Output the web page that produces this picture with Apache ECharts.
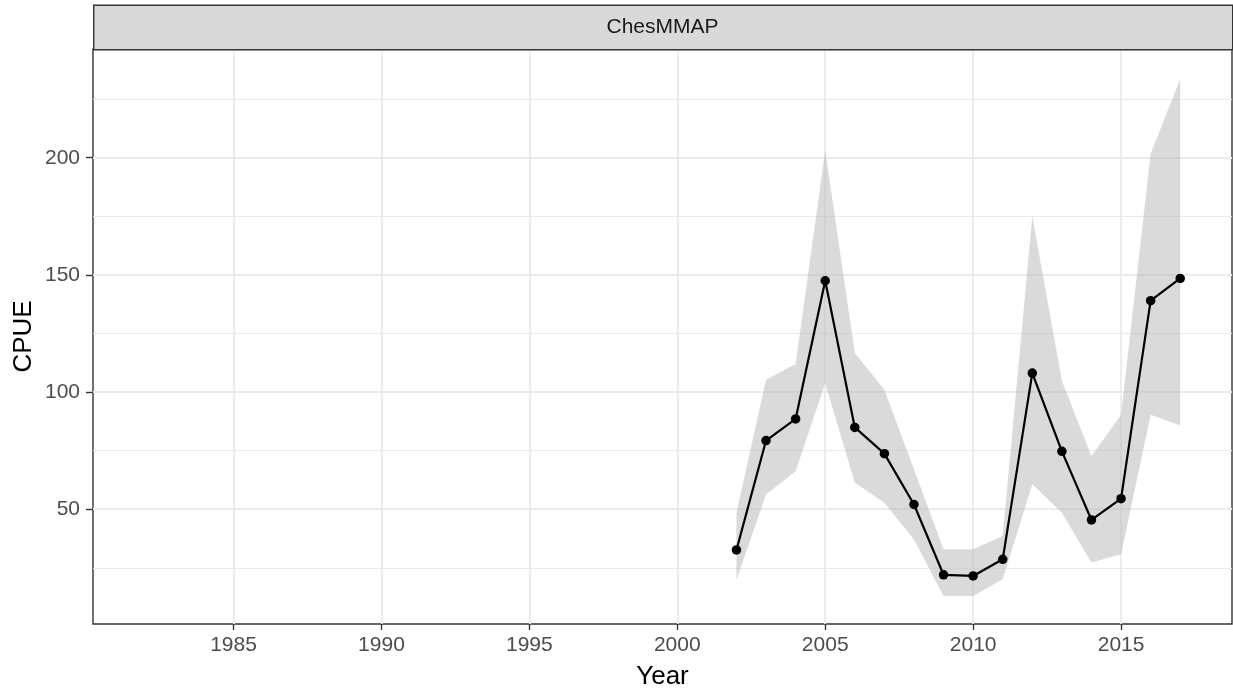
<!DOCTYPE html>
<html>
<head>
<meta charset="utf-8">
<script src="https://cdn.jsdelivr.net/npm/echarts@6/dist/echarts.min.js"></script>
<style>
html,body{margin:0;padding:0;background:#fff;}
#chart{width:1233px;height:698px;}
</style>
</head>
<body>
<div id="chart"></div>
<script>
// ---- data ----
const years = [2002, 2003, 2004, 2005, 2006, 2007, 2008, 2009, 2010, 2011, 2012, 2013, 2014, 2015, 2016, 2017];
const cpue  = [32.6, 79.3, 88.5, 147.5, 84.9, 73.7, 52.0, 22.0, 21.5, 28.6, 108.1, 74.7, 45.4, 54.5, 139.0, 148.5];
const upper = [48.5, 105.2, 112.0, 203.1, 116.7, 101.0, 66.9, 32.9, 32.9, 38.6, 175.0, 104.8, 72.6, 90.3, 201.7, 233.6];
const lower = [19.8, 56.3, 66.2, 103.8, 61.3, 52.8, 37.1, 13.0, 13.0, 20.1, 60.6, 48.5, 27.2, 30.8, 90.3, 85.7];
const xTicks = [1985, 1990, 1995, 2000, 2005, 2010, 2015];
const yTicks = [50, 100, 150, 200];
const yMinorTicks = [25, 75, 125, 175, 225];
const panelTitle = 'ChesMMAP';
const xTitle = 'Year';
const yTitle = 'CPUE';

const FONT = '"Liberation Sans", Arial, Helvetica, sans-serif';
const chart = echarts.init(document.getElementById('chart'), null, {renderer: 'canvas'});

const gridLeft = 93, gridRight = 1, gridTop = 49, gridBottom = 74;
const W = 1233;
const panelCenterX = gridLeft + (W - gridLeft - gridRight) / 2;

const gridLines = [];
yMinorTicks.forEach(v => gridLines.push({yAxis: v, lineStyle: {color: '#EBEBEB', width: 1.1, type: 'solid'}}));
yTicks.forEach(v => gridLines.push({yAxis: v, lineStyle: {color: '#EBEBEB', width: 1.8, type: 'solid'}}));
xTicks.forEach(v => gridLines.push({xAxis: v, lineStyle: {color: '#EBEBEB', width: 1.8, type: 'solid'}}));

const option = {
  animation: false,
  backgroundColor: '#ffffff',
  grid: {left: gridLeft, right: gridRight, top: gridTop, bottom: gridBottom,
         show: true, borderColor: '#333333', borderWidth: 1.4, backgroundColor: '#ffffff'},
  xAxis: {
    type: 'value', min: 1980.25, max: 2018.75,
    name: xTitle, nameLocation: 'middle', nameGap: 40, nameMoveOverlap: false,
    nameTextStyle: {fontFamily: FONT, fontSize: 26, color: '#000000'},
    axisLine: {show: false},
    axisTick: {show: true, length: 6, customValues: xTicks, lineStyle: {color: '#333333', width: 1.4}},
    axisLabel: {show: true, customValues: xTicks, margin: 11, fontFamily: FONT, fontSize: 21, color: '#4D4D4D',
                formatter: v => String(v)},
    splitLine: {show: false}
  },
  yAxis: {
    type: 'value', min: 1.0, max: 246.4,
    name: yTitle, nameLocation: 'middle', nameGap: 56, nameRotate: 90, nameMoveOverlap: false,
    nameTextStyle: {fontFamily: FONT, fontSize: 26, color: '#000000'},
    axisLine: {show: false},
    axisTick: {show: true, length: 7, customValues: yTicks, lineStyle: {color: '#333333', width: 1.4}},
    axisLabel: {show: true, customValues: yTicks, margin: 13, fontFamily: FONT, fontSize: 21, color: '#4D4D4D',
                formatter: v => String(v)},
    splitLine: {show: false}
  },
  graphic: [
    {type: 'rect', left: gridLeft, top: 4.5, z: 100,
     shape: {width: W - gridLeft - gridRight, height: gridTop - 4.5},
     style: {fill: '#D9D9D9', stroke: '#333333', lineWidth: 1.4}},
    {type: 'text', z: 101, x: panelCenterX, y: 27,
     style: {text: panelTitle, font: '21px ' + FONT, fill: '#1A1A1A', textAlign: 'center', textVerticalAlign: 'middle'}}
  ],
  series: [
    {
      type: 'line', data: [], silent: true, z: 1,
      markLine: {silent: true, z: 1, symbol: 'none', label: {show: false}, animation: false, data: gridLines}
    },
    {
      type: 'custom', z: 2, silent: true,
      data: years.map((y, i) => [y, lower[i], upper[i]]),
      encode: {x: 0, y: [1, 2]},
      renderItem: function (params, api) {
        if (params.dataIndex !== 0) return null;
        const pts = [];
        for (let i = 0; i < years.length; i++) pts.push(api.coord([years[i], upper[i]]));
        for (let i = years.length - 1; i >= 0; i--) pts.push(api.coord([years[i], lower[i]]));
        return {type: 'polygon', shape: {points: pts}, style: {fill: 'rgba(185,185,185,0.52)', stroke: null}};
      }
    },
    {
      type: 'line', z: 3,
      data: years.map((y, i) => [y, cpue[i]]),
      symbol: 'circle', symbolSize: 9.5, showSymbol: true,
      lineStyle: {color: '#000000', width: 2.2},
      itemStyle: {color: '#000000'}
    }
  ]
};
chart.setOption(option);
</script>
</body>
</html>
